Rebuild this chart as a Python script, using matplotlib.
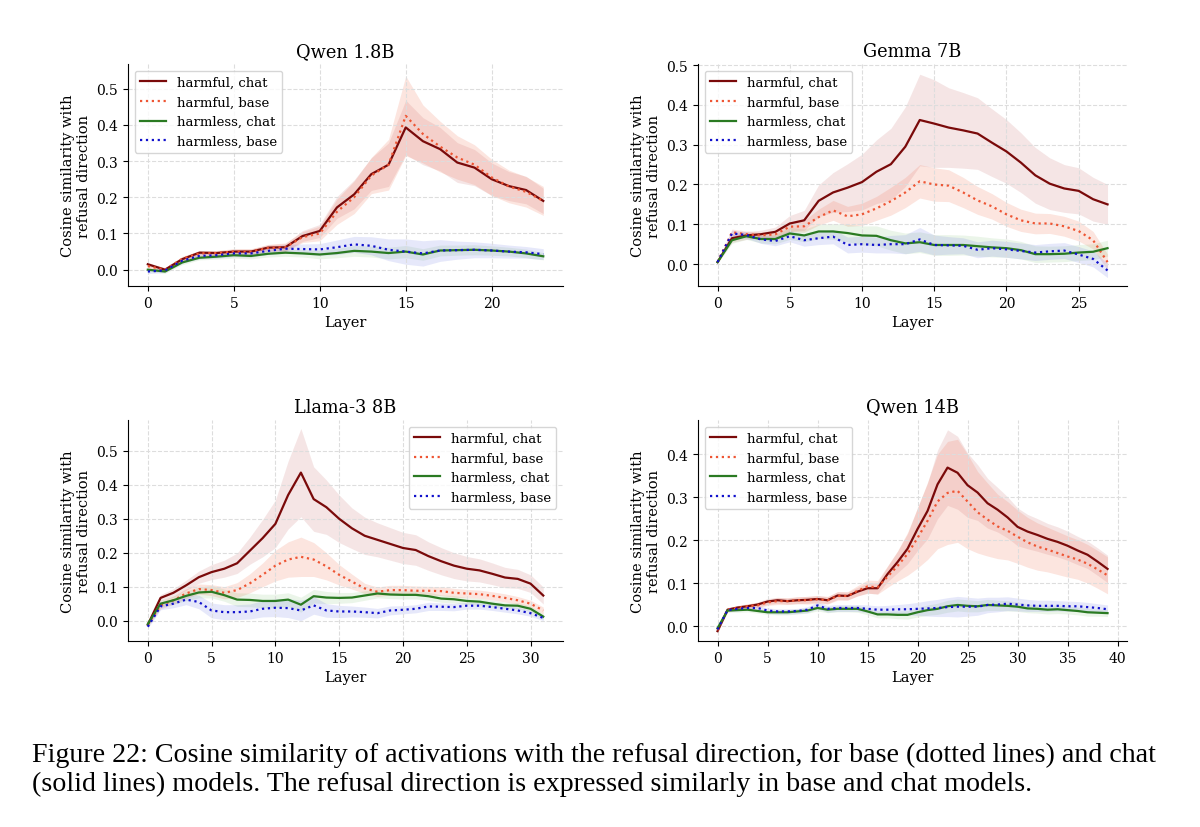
import numpy as np
import matplotlib
matplotlib.use("Agg")
import matplotlib.pyplot as plt

plt.rcParams['font.family'] = ['DejaVu Serif']

# ---- Qwen 1.8B ----
qwen18_harmful_chat = [0.015, 0.0, 0.029, 0.047, 0.046, 0.05, 0.05, 0.061, 0.062, 0.093, 0.107, 0.172,
                       0.208, 0.264, 0.29, 0.393, 0.355, 0.333, 0.296, 0.282, 0.25, 0.231, 0.22, 0.19]
qwen18_harmful_base = [0.01, 0.0, 0.03, 0.045, 0.046, 0.05, 0.05, 0.06, 0.062, 0.09, 0.1, 0.16,
                       0.2, 0.26, 0.29, 0.425, 0.375, 0.34, 0.31, 0.29, 0.255, 0.23, 0.215, 0.19]
qwen18_harmless_chat = [0.0, -0.005, 0.02, 0.033, 0.036, 0.04, 0.038, 0.044, 0.047, 0.045, 0.042, 0.046,
                        0.052, 0.05, 0.046, 0.05, 0.042, 0.053, 0.054, 0.055, 0.053, 0.05, 0.045, 0.037]
qwen18_harmless_base = [-0.005, -0.002, 0.025, 0.038, 0.04, 0.045, 0.045, 0.052, 0.058, 0.057, 0.056, 0.062,
                        0.07, 0.066, 0.055, 0.05, 0.045, 0.053, 0.054, 0.055, 0.053, 0.05, 0.048, 0.043]
qwen18_harmful_chat_std = [0.005, 0.005, 0.006, 0.006, 0.006, 0.007, 0.007, 0.008, 0.01, 0.015, 0.018, 0.03,
                           0.04, 0.045, 0.06, 0.075, 0.065, 0.06, 0.055, 0.05, 0.045, 0.04, 0.038, 0.035]
qwen18_harmful_base_std = [0.006, 0.006, 0.007, 0.007, 0.007, 0.008, 0.008, 0.01, 0.012, 0.015, 0.02, 0.035,
                           0.045, 0.05, 0.07, 0.11, 0.08, 0.07, 0.06, 0.055, 0.05, 0.045, 0.042, 0.04]
qwen18_harmless_chat_std = [0.005, 0.005, 0.006, 0.006, 0.007, 0.008, 0.008, 0.009, 0.01, 0.01, 0.012, 0.013,
                            0.015, 0.015, 0.016, 0.017, 0.016, 0.015, 0.014, 0.014, 0.013, 0.012, 0.012, 0.01]
qwen18_harmless_base_std = [0.006, 0.006, 0.007, 0.008, 0.008, 0.009, 0.01, 0.01, 0.012, 0.014, 0.016, 0.02,
                            0.022, 0.025, 0.03, 0.035, 0.035, 0.03, 0.025, 0.022, 0.02, 0.018, 0.016, 0.015]

# ---- Gemma 7B ----
gemma_harmful_chat = [0.005, 0.065, 0.072, 0.075, 0.081, 0.102, 0.11, 0.159, 0.18, 0.192, 0.206, 0.232, 0.251,
                      0.295, 0.362, 0.353, 0.343, 0.336, 0.328, 0.305, 0.283, 0.255, 0.223, 0.202, 0.19, 0.184,
                      0.163, 0.15]
gemma_harmful_base = [0.005, 0.08, 0.075, 0.072, 0.075, 0.094, 0.095, 0.118, 0.135, 0.12, 0.125, 0.14, 0.158,
                      0.18, 0.208, 0.2, 0.197, 0.18, 0.16, 0.145, 0.125, 0.11, 0.102, 0.102, 0.095, 0.083,
                      0.06, 0.005]
gemma_harmless_chat = [0.005, 0.06, 0.07, 0.063, 0.063, 0.077, 0.072, 0.082, 0.082, 0.078, 0.072, 0.071, 0.06,
                       0.052, 0.055, 0.048, 0.048, 0.048, 0.045, 0.042, 0.04, 0.035, 0.025, 0.025, 0.026, 0.029,
                       0.031, 0.04]
gemma_harmless_base = [0.005, 0.077, 0.073, 0.062, 0.058, 0.07, 0.06, 0.065, 0.069, 0.048, 0.05, 0.048, 0.05,
                       0.05, 0.062, 0.048, 0.047, 0.046, 0.036, 0.04, 0.037, 0.033, 0.029, 0.032, 0.034, 0.024,
                       0.013, -0.016]
gemma_harmful_chat_std = [0.003, 0.01, 0.01, 0.01, 0.012, 0.02, 0.025, 0.04, 0.05, 0.06, 0.07, 0.08, 0.09,
                          0.1, 0.115, 0.11, 0.1, 0.095, 0.09, 0.085, 0.08, 0.075, 0.07, 0.065, 0.06, 0.058,
                          0.055, 0.05]
gemma_harmful_base_std = [0.003, 0.008, 0.008, 0.008, 0.01, 0.012, 0.015, 0.02, 0.025, 0.025, 0.028, 0.03,
                          0.035, 0.038, 0.042, 0.042, 0.04, 0.038, 0.035, 0.032, 0.03, 0.028, 0.026, 0.025,
                          0.025, 0.025, 0.022, 0.02]
gemma_harmless_chat_std = [0.003, 0.008, 0.008, 0.01, 0.012, 0.015, 0.016, 0.018, 0.02, 0.022, 0.024, 0.025,
                           0.025, 0.026, 0.026, 0.026, 0.026, 0.025, 0.025, 0.024, 0.023, 0.022, 0.021, 0.02,
                           0.02, 0.02, 0.02, 0.02]
gemma_harmless_base_std = [0.003, 0.008, 0.008, 0.01, 0.012, 0.014, 0.015, 0.016, 0.018, 0.02, 0.02, 0.02,
                           0.022, 0.024, 0.03, 0.025, 0.022, 0.02, 0.02, 0.02, 0.02, 0.02, 0.02, 0.02, 0.02,
                           0.02, 0.02, 0.018]

# ---- Llama-3 8B ----
llama_harmful_chat = [-0.012, 0.067, 0.082, 0.104, 0.128, 0.143, 0.153, 0.169, 0.206, 0.243, 0.285, 0.37, 0.436,
                      0.358, 0.334, 0.3, 0.272, 0.25, 0.238, 0.226, 0.214, 0.208, 0.19, 0.175, 0.162, 0.153,
                      0.148, 0.138, 0.127, 0.123, 0.109, 0.074]
llama_harmful_base = [-0.012, 0.045, 0.06, 0.08, 0.093, 0.09, 0.082, 0.09, 0.11, 0.135, 0.162, 0.18, 0.188,
                      0.18, 0.16, 0.135, 0.115, 0.095, 0.085, 0.09, 0.09, 0.088, 0.088, 0.087, 0.082, 0.08,
                      0.078, 0.073, 0.067, 0.06, 0.05, 0.03]
llama_harmless_chat = [-0.01, 0.05, 0.06, 0.073, 0.083, 0.085, 0.075, 0.062, 0.061, 0.058, 0.058, 0.062, 0.047,
                       0.072, 0.068, 0.067, 0.068, 0.074, 0.08, 0.077, 0.076, 0.076, 0.072, 0.065, 0.063, 0.058,
                       0.056, 0.05, 0.045, 0.044, 0.035, 0.012]
llama_harmless_base = [-0.018, 0.042, 0.05, 0.062, 0.055, 0.03, 0.025, 0.025, 0.027, 0.035, 0.038, 0.037, 0.03,
                       0.045, 0.03, 0.027, 0.027, 0.025, 0.022, 0.03, 0.032, 0.035, 0.042, 0.041, 0.04, 0.044,
                       0.044, 0.04, 0.035, 0.03, 0.022, 0.008]
llama_harmful_chat_std = [0.005, 0.01, 0.012, 0.015, 0.018, 0.022, 0.025, 0.03, 0.04, 0.055, 0.07, 0.1, 0.13,
                          0.095, 0.08, 0.07, 0.06, 0.055, 0.05, 0.048, 0.046, 0.045, 0.042, 0.04, 0.038, 0.036,
                          0.034, 0.032, 0.03, 0.028, 0.026, 0.025]
llama_harmful_base_std = [0.005, 0.01, 0.012, 0.014, 0.015, 0.016, 0.018, 0.022, 0.028, 0.035, 0.045, 0.052,
                          0.058, 0.05, 0.04, 0.03, 0.022, 0.015, 0.014, 0.014, 0.014, 0.014, 0.013, 0.013, 0.013,
                          0.012, 0.012, 0.012, 0.012, 0.011, 0.01, 0.01]
llama_harmless_chat_std = [0.004, 0.01, 0.012, 0.014, 0.016, 0.018, 0.018, 0.02, 0.02, 0.02, 0.02, 0.02, 0.022,
                           0.02, 0.018, 0.016, 0.015, 0.014, 0.013, 0.012, 0.012, 0.012, 0.012, 0.011, 0.011,
                           0.01, 0.01, 0.01, 0.009, 0.009, 0.008, 0.008]
llama_harmless_base_std = [0.004, 0.01, 0.012, 0.015, 0.02, 0.022, 0.022, 0.022, 0.022, 0.024, 0.026, 0.028,
                           0.03, 0.026, 0.02, 0.018, 0.016, 0.015, 0.014, 0.013, 0.012, 0.012, 0.012, 0.011,
                           0.011, 0.01, 0.01, 0.01, 0.01, 0.01, 0.009, 0.008]

# ---- Qwen 14B ----
qwen14_harmful_chat = [-0.012, 0.038, 0.043, 0.046, 0.05, 0.057, 0.06, 0.058, 0.06, 0.061, 0.063, 0.06, 0.071,
                       0.07, 0.08, 0.088, 0.088, 0.121, 0.149, 0.18, 0.226, 0.268, 0.33, 0.369, 0.357, 0.328,
                       0.311, 0.286, 0.271, 0.253, 0.231, 0.22, 0.212, 0.203, 0.196, 0.187, 0.176, 0.166,
                       0.15, 0.133]
qwen14_harmful_base = [-0.01, 0.038, 0.042, 0.046, 0.048, 0.055, 0.058, 0.058, 0.06, 0.06, 0.062, 0.06, 0.07,
                       0.07, 0.082, 0.092, 0.09, 0.115, 0.14, 0.168, 0.205, 0.245, 0.29, 0.31, 0.315, 0.29,
                       0.265, 0.248, 0.232, 0.222, 0.208, 0.195, 0.185, 0.178, 0.17, 0.162, 0.155, 0.145,
                       0.132, 0.118]
qwen14_harmless_chat = [-0.005, 0.036, 0.037, 0.038, 0.035, 0.032, 0.032, 0.032, 0.034, 0.036, 0.042, 0.038,
                        0.04, 0.04, 0.04, 0.034, 0.027, 0.027, 0.026, 0.026, 0.032, 0.037, 0.04, 0.046, 0.049,
                        0.047, 0.046, 0.049, 0.048, 0.047, 0.045, 0.041, 0.04, 0.038, 0.039, 0.037, 0.035,
                        0.032, 0.031, 0.03]
qwen14_harmless_base = [-0.008, 0.037, 0.04, 0.042, 0.042, 0.036, 0.034, 0.034, 0.035, 0.038, 0.048, 0.04,
                        0.042, 0.042, 0.042, 0.04, 0.038, 0.038, 0.039, 0.039, 0.04, 0.041, 0.042, 0.044, 0.045,
                        0.045, 0.045, 0.049, 0.05, 0.052, 0.05, 0.048, 0.047, 0.047, 0.047, 0.046, 0.046,
                        0.044, 0.042, 0.039]
qwen14_harmful_chat_std = [0.004, 0.004, 0.005, 0.005, 0.006, 0.007, 0.007, 0.007, 0.008, 0.008, 0.008, 0.008,
                           0.009, 0.009, 0.01, 0.012, 0.013, 0.018, 0.025, 0.035, 0.05, 0.065, 0.08, 0.088,
                           0.085, 0.075, 0.065, 0.058, 0.052, 0.048, 0.044, 0.04, 0.038, 0.036, 0.035, 0.034,
                           0.033, 0.032, 0.032, 0.032]
qwen14_harmful_base_std = [0.004, 0.005, 0.005, 0.006, 0.006, 0.007, 0.008, 0.008, 0.008, 0.009, 0.009, 0.009,
                           0.01, 0.01, 0.012, 0.015, 0.016, 0.025, 0.035, 0.05, 0.07, 0.09, 0.11, 0.12, 0.12,
                           0.11, 0.095, 0.085, 0.075, 0.068, 0.062, 0.058, 0.055, 0.052, 0.05, 0.048, 0.046,
                           0.045, 0.044, 0.043]
qwen14_harmless_chat_std = [0.004, 0.004, 0.005, 0.005, 0.005, 0.005, 0.006, 0.006, 0.006, 0.006, 0.007, 0.007,
                            0.007, 0.007, 0.008, 0.008, 0.008, 0.008, 0.009, 0.01, 0.011, 0.012, 0.013, 0.014,
                            0.014, 0.014, 0.013, 0.013, 0.012, 0.012, 0.011, 0.01, 0.01, 0.01, 0.01, 0.009,
                            0.009, 0.009, 0.008, 0.008]
qwen14_harmless_base_std = [0.004, 0.004, 0.005, 0.005, 0.005, 0.006, 0.006, 0.006, 0.006, 0.007, 0.008, 0.008,
                            0.008, 0.008, 0.008, 0.009, 0.009, 0.01, 0.011, 0.013, 0.015, 0.018, 0.02, 0.022,
                            0.024, 0.022, 0.02, 0.018, 0.017, 0.016, 0.015, 0.014, 0.013, 0.013, 0.012, 0.012,
                            0.011, 0.011, 0.01, 0.01]

titles = ["Qwen 1.8B", "Gemma 7B", "Llama-3 8B", "Qwen 14B"]
labels = ["harmful, chat", "harmful, base", "harmless, chat", "harmless, base"]
colors = ["#7a0a0a", "#ee5533", "#2a7a22", "#1010cc"]
band_colors = ["#b03030", "#f07050", "#60b050", "#5060e0"]
band_alpha = [0.12, 0.18, 0.12, 0.14]
styles = ["-", ":", "-", ":"]

panels = [
    (qwen18_harmful_chat, qwen18_harmful_base, qwen18_harmless_chat, qwen18_harmless_base,
     qwen18_harmful_chat_std, qwen18_harmful_base_std, qwen18_harmless_chat_std, qwen18_harmless_base_std),
    (gemma_harmful_chat, gemma_harmful_base, gemma_harmless_chat, gemma_harmless_base,
     gemma_harmful_chat_std, gemma_harmful_base_std, gemma_harmless_chat_std, gemma_harmless_base_std),
    (llama_harmful_chat, llama_harmful_base, llama_harmless_chat, llama_harmless_base,
     llama_harmful_chat_std, llama_harmful_base_std, llama_harmless_chat_std, llama_harmless_base_std),
    (qwen14_harmful_chat, qwen14_harmful_base, qwen14_harmless_chat, qwen14_harmless_base,
     qwen14_harmful_chat_std, qwen14_harmful_base_std, qwen14_harmless_chat_std, qwen14_harmless_base_std),
]

ylims = [(-0.045, 0.568), (-0.055, 0.5025), (-0.06, 0.591), (-0.035, 0.48)]
legend_locs = ["upper left", "upper left", "upper right", "upper left"]
axes_rects = [
    [0.1067, 0.6534, 0.3625, 0.268],
    [0.5817, 0.6534, 0.3575, 0.268],
    [0.1067, 0.2246, 0.3625, 0.267],
    [0.5817, 0.2246, 0.3575, 0.267],
]

fig = plt.figure(figsize=(12, 8.28), dpi=100)

for i, data in enumerate(panels):
    ax = fig.add_axes(axes_rects[i])
    means = data[:4]
    stds = data[4:]
    for j in range(4):
        m = np.array(means[j])
        s = np.array(stds[j])
        layers = np.arange(len(m))
        ax.fill_between(layers, m - s, m + s, color=band_colors[j], alpha=band_alpha[j], linewidth=0)
    for j in range(4):
        m = np.array(means[j])
        layers = np.arange(len(m))
        ax.plot(layers, m, linestyle=styles[j], color=colors[j], linewidth=1.6, label=labels[j])
    ax.set_ylim(*ylims[i])
    ax.set_title(titles[i], fontsize=12.75)
    ax.set_xlabel("Layer", fontsize=10.5)
    ax.set_ylabel("Cosine similarity with\nrefusal direction", fontsize=10.5)
    ax.tick_params(labelsize=10)
    ax.grid(True, linestyle="--", color="#dddddd", linewidth=0.8)
    ax.spines["top"].set_visible(False)
    ax.spines["right"].set_visible(False)
    ax.legend(loc=legend_locs[i], fontsize=9.5, framealpha=0.8)

caption_1 = "Figure 22: Cosine similarity of activations with the refusal direction, for base (dotted lines) and chat"
caption_2 = "(solid lines) models. The refusal direction is expressed similarly in base and chat models."
fig.text(0.027, 1 - 762 / 828, caption_1, fontsize=20.2, family="Liberation Serif", ha="left", va="baseline")
fig.text(0.027, 1 - 791 / 828, caption_2, fontsize=20.2, family="Liberation Serif", ha="left", va="baseline")

fig.savefig("out.png", dpi=100)
